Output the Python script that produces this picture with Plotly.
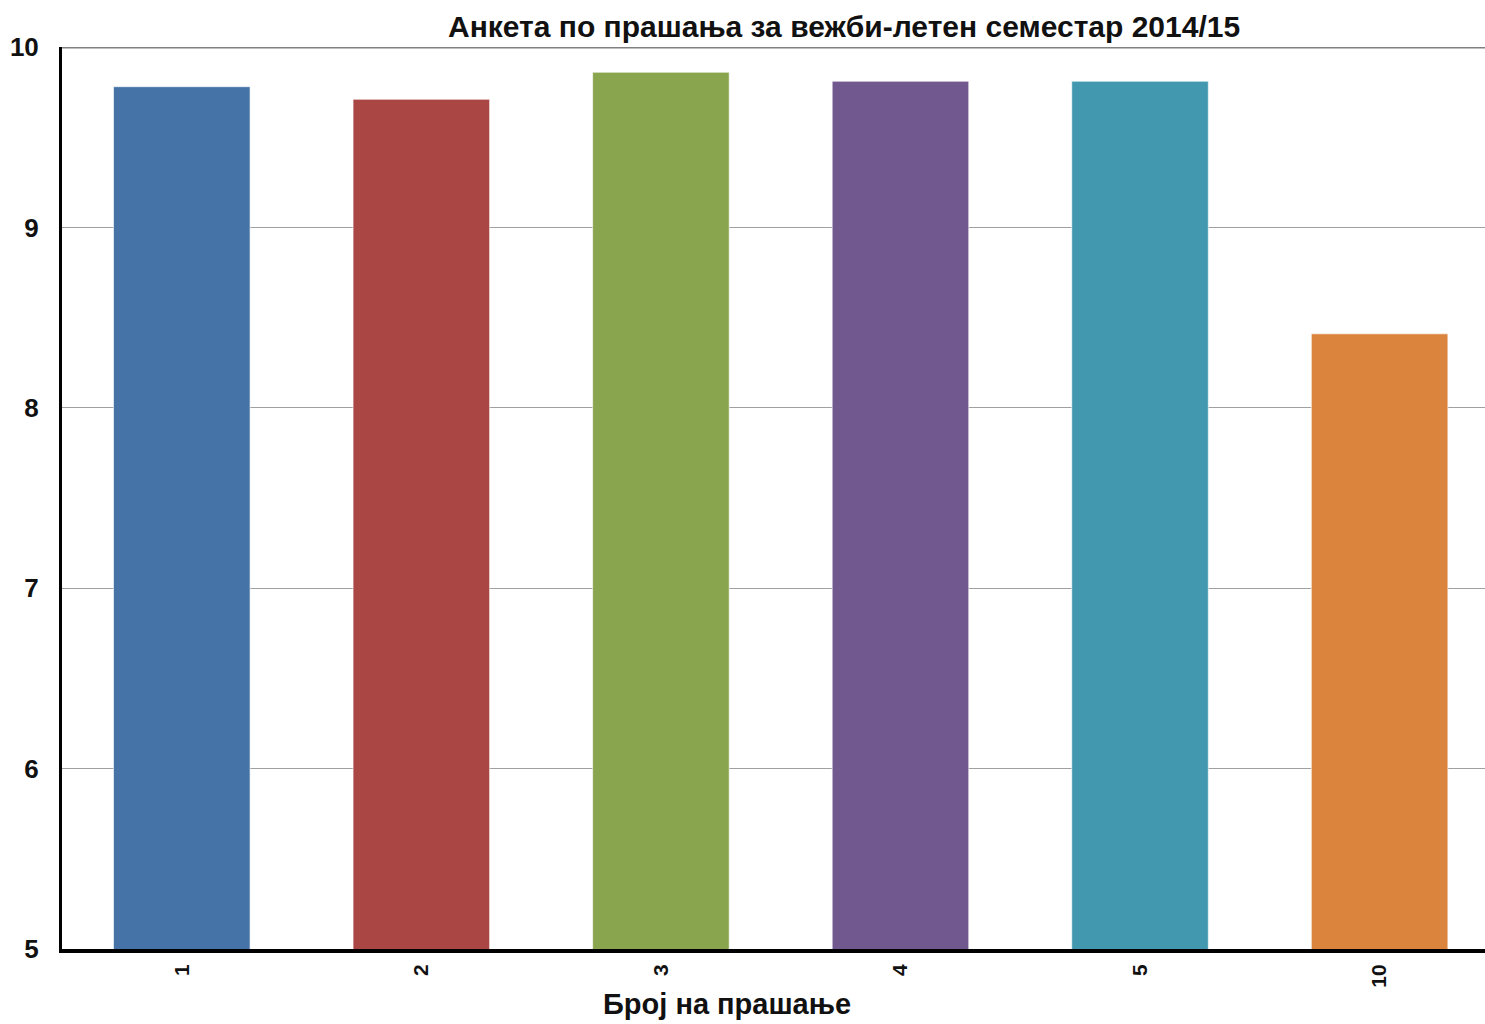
import plotly.graph_objects as go

# Survey results per question number
questions = ["1", "2", "3", "4", "5", "10"]
scores = [9.78, 9.71, 9.86, 9.81, 9.81, 8.41]
bar_colors = ["#4572A7", "#AA4643", "#89A54E", "#71588F", "#4198AF", "#DB843D"]
y_ticks = [5, 6, 7, 8, 9, 10]

title_text = "<b>Анкета по прашања за вежби-летен семестар 2014/15</b>"
x_title_text = "<b>Број на прашање</b>"

FONT = "Liberation Sans, Arial, sans-serif"

fig = go.Figure(
    go.Bar(
        x=questions,
        y=scores,
        base=0,
        width=0.57,
        marker=dict(color=bar_colors, line=dict(color="rgba(255,255,255,0.6)", width=1)),
        hoverinfo="x+y",
    )
)

fig.update_layout(
    width=1485,
    height=1024,
    margin=dict(l=62, r=0, t=47, b=75),
    paper_bgcolor="white",
    plot_bgcolor="white",
    showlegend=False,
    font=dict(family=FONT, color="black"),
    annotations=[
        dict(text=title_text, x=844, y=26, xref="paper", yref="paper",
             showarrow=False, font=dict(size=30, family=FONT, color="#111")),
        dict(text=x_title_text, x=727, y=1004, xref="paper", yref="paper",
             showarrow=False, font=dict(size=29, family=FONT, color="#111")),
    ],
)

# Annotation positions are given in pixels; convert to paper fractions
pw, ph = 1485 - 62, 1024 - 47 - 75
for ann in fig.layout.annotations:
    ann.x = (ann.x - 62) / pw
    ann.y = (1024 - 75 - ann.y) / ph
    ann.yanchor = "middle"
    ann.xanchor = "center"

fig.update_xaxes(
    type="category",
    range=[-0.5, 5.44],
    tickangle=-90,
    tickfont=dict(size=21, family=FONT, color="#111", weight="bold"),
    showline=True,
    linecolor="black",
    linewidth=4,
    showgrid=False,
    ticks="",
    ticklabelstandoff=3,
)

fig.update_yaxes(
    range=[5, 10],
    tickvals=y_ticks,
    tickfont=dict(size=26, family=FONT, color="#111", weight="bold"),
    showline=True,
    linecolor="black",
    linewidth=3,
    showgrid=True,
    gridcolor="#a0a0a0",
    gridwidth=1,
    zeroline=False,
    ticks="",
    ticklabelstandoff=15,
)

# Top border line at the maximum of the scale
fig.add_shape(type="line", xref="paper", yref="y", x0=0, x1=1, y0=10, y1=10,
              line=dict(color="#808080", width=3), layer="above")

fig.write_html("out.html")
